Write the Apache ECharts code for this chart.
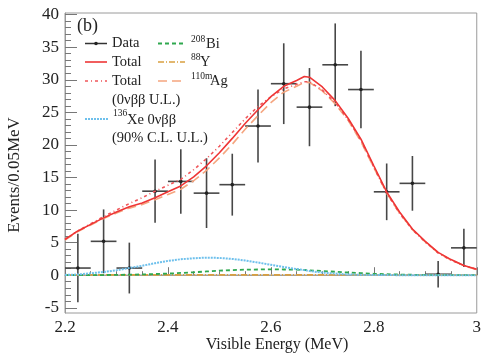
<!DOCTYPE html>
<html>
<head>
<meta charset="utf-8">
<script src="https://cdn.jsdelivr.net/npm/echarts@6/dist/echarts.min.js"></script>
<style>html,body{margin:0;padding:0;background:#fff}#c{width:484px;height:354px}</style>
</head>
<body>
<div id="c"></div>
<script>
// ---- Data ----
const dataE   = [2.225,2.275,2.325,2.375,2.425,2.475,2.525,2.575,2.625,2.675,2.725,2.775,2.825,2.875,2.925,2.975];
const dataY   = [1.1,5.2,1.1,12.9,14.4,12.6,13.9,22.9,29.4,25.8,32.3,28.5,12.8,14.1,0.15,4.2];
const dataErr = [5.25,4.9,3.9,4.85,4.95,5.35,4.75,5.6,6.2,6.0,6.35,5.95,4.35,4.2,2.05,2.95];
const binHalf = 0.025;

const curveE  = [2.2,2.225,2.25,2.275,2.3,2.325,2.35,2.375,2.4,2.425,2.45,2.475,2.5,2.525,2.55,2.575,2.6,2.625,2.65,2.665,2.675,2.7,2.725,2.75,2.775,2.8,2.825,2.85,2.875,2.9,2.925,2.95,2.975,3.0];
const total   = [5.5,6.8,7.8,8.8,9.7,10.5,11.1,11.9,12.8,13.7,15.1,16.8,18.8,21.0,23.3,25.4,27.4,29.0,29.9,30.5,30.4,28.9,26.8,24.1,20.9,16.8,12.8,9.7,7.1,5.2,3.5,2.4,1.5,0.9];
const totalUL = [5.5,6.8,7.9,9.0,10.0,11.0,11.9,12.9,13.8,14.7,16.2,17.9,19.8,21.9,24.0,25.9,27.4,28.6,29.3,29.7,29.7,28.4,26.5,23.9,20.7,16.6,12.6,9.5,7.0,5.1,3.4,2.3,1.5,0.9];
const xe0nbb  = [0.05,0.1,0.3,0.5,0.75,1.1,1.45,1.85,2.2,2.45,2.6,2.7,2.65,2.5,2.25,1.95,1.6,1.25,0.95,0.78,0.65,0.4,0.25,0.12,0.06,0.03,0.02,0.01,0,0,0,0,0,0];
const bi208   = [0,0.01,0.02,0.03,0.05,0.08,0.12,0.18,0.25,0.35,0.45,0.58,0.7,0.78,0.85,0.88,0.9,0.88,0.85,0.8,0.75,0.65,0.53,0.42,0.32,0.22,0.15,0.1,0.07,0.04,0.02,0.01,0.005,0];
const y88     = [0.04,0.04,0.05,0.05,0.05,0.05,0.05,0.05,0.05,0.05,0.05,0.05,0.05,0.05,0.05,0.05,0.05,0.05,0.05,0.05,0.05,0.05,0.05,0.05,0.05,0.04,0.04,0.04,0.04,0.03,0.03,0.03,0.03,0.03];
const ag110m  = [5.4,6.7,7.7,8.7,9.55,10.3,10.85,11.6,12.4,13.2,14.5,16.1,18.0,20.1,22.4,24.5,26.5,28.1,29.0,29.6,29.6,28.3,26.3,23.8,20.5,16.5,12.6,9.55,7.0,5.1,3.45,2.35,1.45,0.85];

const xTickLabels = ['2.2','2.4','2.6','2.8','3'];
const yMajorTicks = [-5,0,5,10,15,20,25,30,35,40];

// ---- Chart ----
const chart = echarts.init(document.getElementById('c'), null, {renderer:'canvas'});
const serif = "'Liberation Serif', 'DejaVu Serif', serif";
const axisGrey = '#9a9a9a';
const yMin = -5.8, yMax = 40.25;
const yMinor = [];
for (let v = -5; v <= 40; v++) yMinor.push(v);

const pairs = arr => curveE.map((e,i)=>[e, arr[i]]);
const txt = (text, x, y, size) => ({type:'text', z:10, x:x, y:y,
  style:{text:text, font:size+'px '+serif, fill:'#222', textVerticalAlign:'middle'}});

const option = {
  animation: false,
  grid: {left:65, right:3, top:13, bottom:41, show:true, borderColor:axisGrey, borderWidth:1},
  xAxis: {
    type:'value', min:2.2, max:3.0, interval:0.2,
    axisLine:{lineStyle:{color:axisGrey}},
    axisTick:{inside:true, length:8, lineStyle:{color:'#777'}},
    minorTick:{show:true, splitNumber:4, length:4, lineStyle:{color:'#777'}},
    splitLine:{show:false},
    axisLabel:{color:'#222', fontFamily:serif, fontSize:17, margin:6,
      formatter: v => { const i = Math.round((v-2.2)/0.2); return xTickLabels[i] !== undefined ? xTickLabels[i] : ''; }}
  },
  yAxis: [{
    type:'value', min:yMin, max:yMax,
    axisLine:{show:true, lineStyle:{color:axisGrey}},
    axisTick:{show:true, inside:true, length:12, customValues:yMajorTicks, lineStyle:{color:'#777'}},
    axisLabel:{color:'#222', fontFamily:serif, fontSize:17, margin:6, customValues:yMajorTicks},
    splitLine:{show:false}
  },{
    type:'value', min:yMin, max:yMax, position:'left',
    axisLine:{show:false},
    axisTick:{show:true, inside:true, length:6, customValues:yMinor, lineStyle:{color:'#777'}},
    axisLabel:{show:false},
    splitLine:{show:false}
  }],
  series: [
    {
      type:'custom', z:2,
      data: dataE.map((e,i)=>[e, dataY[i], dataErr[i]]),
      renderItem: (params, api) => {
        const x = api.value(0), y = api.value(1), err = api.value(2);
        const c = api.coord([x,y]);
        const l = api.coord([x-binHalf,y]);
        const r = api.coord([x+binHalf,y]);
        const t = api.coord([x,y+err]);
        const b = api.coord([x,y-err]);
        return {type:'group', children:[
          {type:'line', shape:{x1:l[0],y1:l[1],x2:r[0],y2:r[1]}, style:{stroke:'#474747', lineWidth:1.6}},
          {type:'line', shape:{x1:t[0],y1:t[1],x2:b[0],y2:b[1]}, style:{stroke:'#474747', lineWidth:1.6}},
          {type:'circle', shape:{cx:c[0],cy:c[1],r:1.8}, style:{fill:'#222'}}
        ]};
      }
    },
    {type:'line', name:'zero', data:[[2.2,0],[3.0,0]], symbol:'none', z:3,
      lineStyle:{color:'#a0a0a0', width:1.2}},
    {type:'line', name:'88Y', data:pairs(y88), symbol:'none', z:4,
      lineStyle:{color:'#d9a040', width:1.6, type:[6,2,1,2]}},
    {type:'line', name:'208Bi', data:pairs(bi208), symbol:'none', z:4,
      lineStyle:{color:'#2fa84f', width:1.8, type:[4,3]}},
    {type:'line', name:'136Xe', data:pairs(xe0nbb), symbol:'none', z:4,
      lineStyle:{color:'#6ec0ec', width:2, type:[2,1]}},
    {type:'line', name:'110mAg', data:pairs(ag110m), symbol:'none', z:4,
      lineStyle:{color:'#f5a57f', width:1.6, type:[9,5]}},
    {type:'line', name:'TotalUL', data:pairs(totalUL), symbol:'none', z:5,
      lineStyle:{color:'#f0565a', width:1.6, type:[3,3,1,3]}},
    {type:'line', name:'Total', data:pairs(total), symbol:'none', z:6,
      lineStyle:{color:'#ee3535', width:1.6}}
  ],
  graphic: [
    {type:'text', x:15, y:175, rotation:Math.PI/2, z:10,
      style:{text:'Events/0.05MeV', font:'17px '+serif, fill:'#222', textAlign:'center', textVerticalAlign:'middle'}},
    {type:'text', x:277, y:345, z:10,
      style:{text:'Visible Energy (MeV)', font:'16px '+serif, fill:'#222', textAlign:'center', textVerticalAlign:'middle'}},
    txt('(b)', 77, 26, 18),
    // Legend left column
    {type:'line', z:10, shape:{x1:85,y1:43.5,x2:107,y2:43.5}, style:{stroke:'#333', lineWidth:1.5}},
    {type:'circle', z:10, shape:{cx:96,cy:43.5,r:1.8}, style:{fill:'#222'}},
    txt('Data', 112, 43.5, 14.5),
    {type:'line', z:10, shape:{x1:85,y1:62,x2:107,y2:62}, style:{stroke:'#ee3535', lineWidth:1.6}},
    txt('Total', 112, 62, 14.5),
    {type:'line', z:10, shape:{x1:85,y1:81,x2:107,y2:81}, style:{stroke:'#f0565a', lineWidth:1.6, lineDash:[3,3,1,3]}},
    txt('Total', 112, 81, 14.5),
    txt('(0νββ U.L.)', 112, 100, 14.5),
    {type:'line', z:10, shape:{x1:85,y1:119,x2:108,y2:119}, style:{stroke:'#6ec0ec', lineWidth:2, lineDash:[2,1]}},
    txt('136', 113, 113, 9.5),
    txt('Xe 0νββ', 127, 120, 14.5),
    txt('(90% C.L. U.L.)', 112, 138, 14.5),
    // Legend right column
    {type:'line', z:10, shape:{x1:158,y1:43.5,x2:185,y2:43.5}, style:{stroke:'#2fa84f', lineWidth:1.8, lineDash:[4,3]}},
    txt('208', 191, 39, 9.5),
    txt('Bi', 206, 44, 14.5),
    {type:'line', z:10, shape:{x1:158,y1:62,x2:185,y2:62}, style:{stroke:'#d9a040', lineWidth:1.6, lineDash:[6,2,1,2]}},
    txt('88', 191, 57, 9.5),
    txt('Y', 200, 62, 14.5),
    {type:'line', z:10, shape:{x1:158,y1:81,x2:185,y2:81}, style:{stroke:'#f5a57f', lineWidth:1.6, lineDash:[9,5]}},
    txt('110m', 191, 76, 9.5),
    txt('Ag', 210, 81, 14.5)
  ]
};
chart.setOption(option);
</script>
</body>
</html>
